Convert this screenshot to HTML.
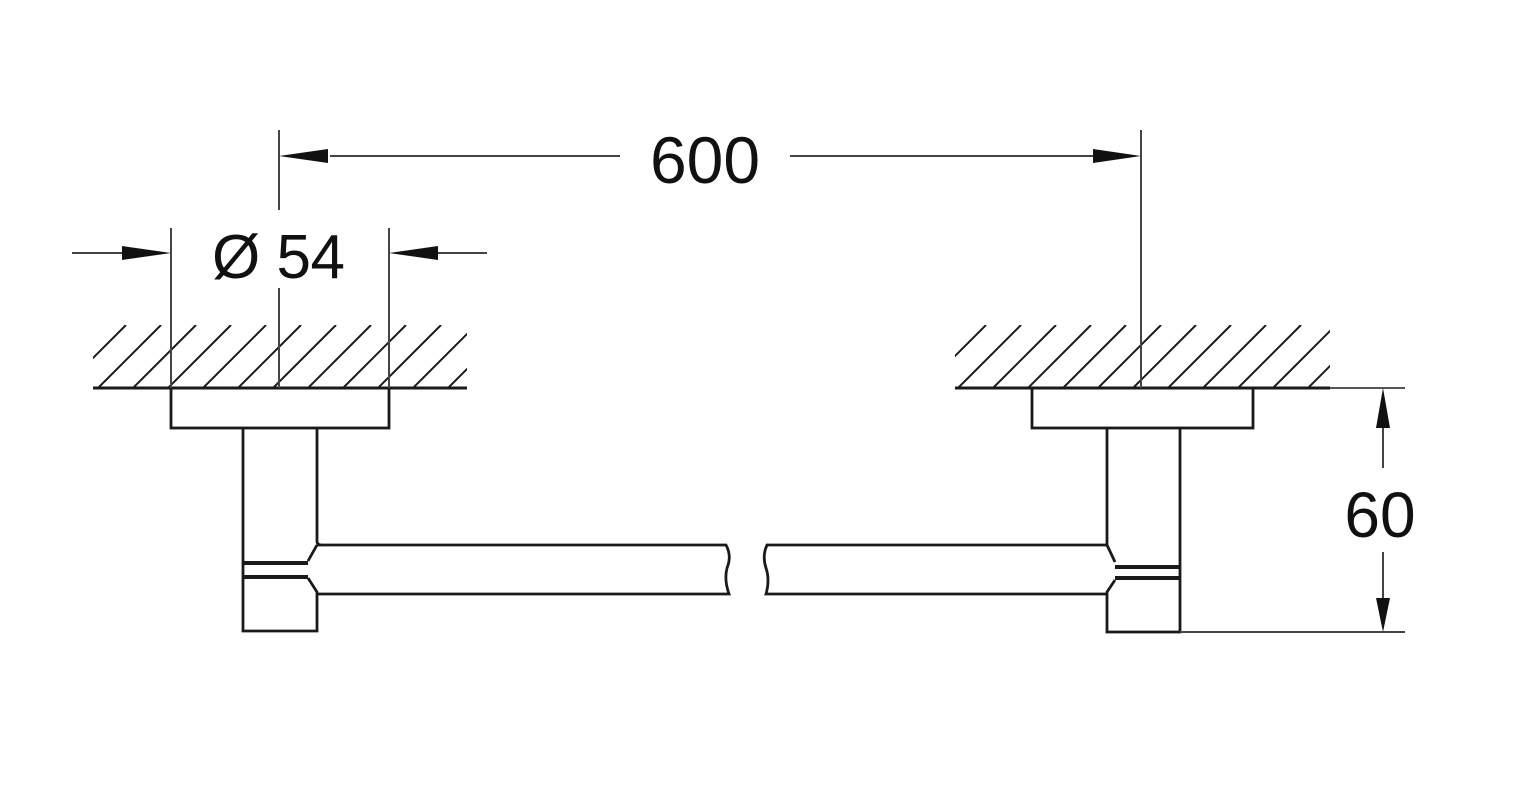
<!DOCTYPE html>
<html><head><meta charset="utf-8"><style>
html,body{margin:0;padding:0;background:#fff;}
svg{display:block;}
text{font-family:"Liberation Sans",Arial,sans-serif;fill:#111;}
</style></head><body>
<svg width="1527" height="800" viewBox="0 0 1527 800" xmlns="http://www.w3.org/2000/svg">
<defs>
<clipPath id="cl"><rect x="93" y="325" width="374" height="63"/></clipPath>
<clipPath id="cr"><rect x="955" y="325" width="375" height="63"/></clipPath>
</defs>
<g stroke="#1a1a1a" fill="none" stroke-width="2.8">
<g clip-path="url(#cl)" stroke-width="2">
<path d="M28 388 l63 -63 M63 388 l63 -63 M98 388 l63 -63 M133 388 l63 -63 M168 388 l63 -63 M203 388 l63 -63 M238 388 l63 -63 M273 388 l63 -63 M308 388 l63 -63 M343 388 l63 -63 M378 388 l63 -63 M413 388 l63 -63 M448 388 l63 -63"/>
</g>
<g clip-path="url(#cr)" stroke-width="2">
<path d="M888 388 l63 -63 M923 388 l63 -63 M958 388 l63 -63 M993 388 l63 -63 M1028 388 l63 -63 M1063 388 l63 -63 M1098 388 l63 -63 M1133 388 l63 -63 M1168 388 l63 -63 M1203 388 l63 -63 M1238 388 l63 -63 M1273 388 l63 -63 M1308 388 l63 -63"/>
</g>
<line x1="93" y1="388" x2="467" y2="388" stroke-width="3"/>
<line x1="955" y1="388" x2="1330" y2="388" stroke-width="3"/>
<line x1="1330" y1="388" x2="1405" y2="388" stroke-width="2" stroke="#555"/>
<rect x="171" y="388" width="218" height="40"/>
<path d="M243 428 V631 H317 V592 L308 578 M317 428 V541 Q317 545 321 545 M317 545 L308 561"/>
<line x1="243" y1="563" x2="308" y2="563" stroke-width="4"/>
<line x1="243" y1="577" x2="308" y2="577" stroke-width="4"/>
<path d="M317 545 H726 Q732 556 727 568 Q724 580 729 594 H317"/>
<rect x="1032" y="388" width="221" height="40"/>
<path d="M1107 428 V545 L1115 562 M1180 428 V632 H1107 V592 L1115 580"/>
<line x1="1115" y1="567" x2="1180" y2="567" stroke-width="4"/>
<line x1="1115" y1="578" x2="1180" y2="578" stroke-width="4"/>
<path d="M1107 545 H767 Q762 556 766 568 Q770 580 766 594 H1107"/>
<line x1="1180" y1="632" x2="1405" y2="632" stroke-width="2" stroke="#444"/>
<g stroke="#444" stroke-width="2">
<line x1="171" y1="228" x2="171" y2="388"/>
<line x1="389" y1="228" x2="389" y2="388"/>
<line x1="279" y1="288" x2="279" y2="388"/>
<line x1="279" y1="130" x2="279" y2="210"/>
<line x1="1141" y1="130" x2="1141" y2="388"/>
<line x1="72" y1="253" x2="130" y2="253"/>
<line x1="430" y1="253" x2="487" y2="253"/>
<line x1="330" y1="156" x2="620" y2="156"/>
<line x1="790" y1="156" x2="1095" y2="156"/>
<line x1="1383" y1="425" x2="1383" y2="468"/>
<line x1="1383" y1="552" x2="1383" y2="600"/>
</g>
</g>
<g fill="#111">
<polygon points="279,156 328,149 328,163"/>
<polygon points="1141,156 1093,149 1093,163"/>
<polygon points="171,253 122,246 122,260"/>
<polygon points="389,253 438,246 438,260"/>
<polygon points="1383,388 1376,428 1390,428"/>
<polygon points="1383,632 1376,598 1390,598"/>
</g>
<text x="705" y="183" font-size="66" text-anchor="middle">600</text>
<text x="212" y="278" font-size="62" textLength="133" lengthAdjust="spacing">Ø 54</text>
<text x="1380" y="537" font-size="64" text-anchor="middle">60</text>
</svg>
</body></html>
